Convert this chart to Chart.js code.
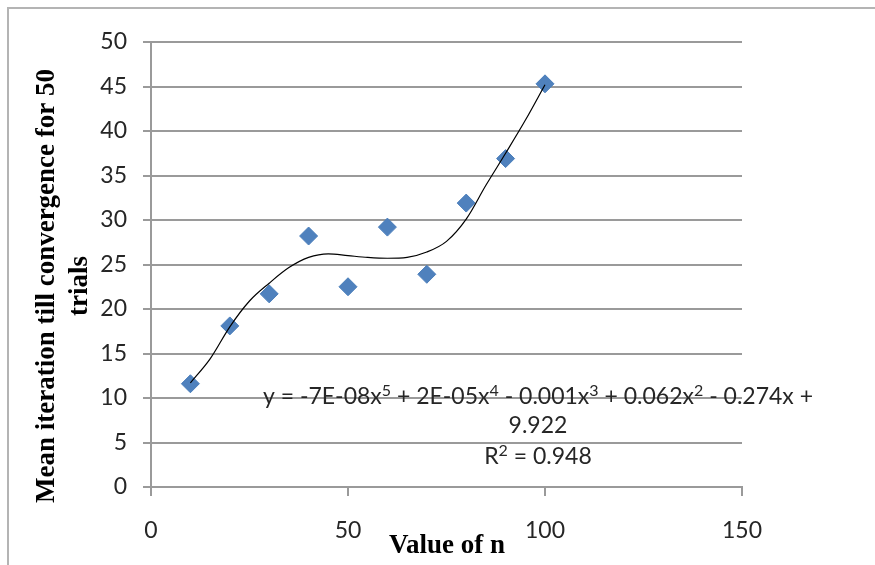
<!DOCTYPE html>
<html><head><meta charset="utf-8">
<script src="https://cdn.jsdelivr.net/npm/chart.js@4/dist/chart.umd.min.js"></script>
<style>html,body{margin:0;padding:0;background:#fff;}#wrap{width:875px;height:565px;}</style>
</head><body><div id="wrap"><canvas id="c" width="875" height="565"></canvas></div>
<script>
// ---- data ----
const nValues = [10, 20, 30, 40, 50, 60, 70, 80, 90, 100];
const meanIterations = [11.6, 18.1, 21.7, 28.2, 22.5, 29.2, 23.9, 31.9, 36.9, 45.3];
// trendline (poly order 5)
const trendX = [10, 15, 20, 25, 30, 35, 40, 45, 50, 55, 60, 65, 70, 75, 80, 85, 90, 95, 100];
const trendY = [11.7, 14.4, 18.0, 20.9, 22.9, 24.65, 25.8, 26.2, 26.0, 25.8, 25.7, 25.8, 26.4, 27.6, 30.1, 33.9, 37.5, 41.2, 45.2];
const xRange = [0, 150], xStep = 50;
const yRange = [0, 50], yStep = 5;
const xAxisTitle = 'Value of n';
const yAxisTitle = ['Mean iteration till convergence for 50', 'trials'];
const equationLine1 = [['y = -7E-08x', 0], ['5', 1], [' + 2E-05x', 0], ['4', 1], [' - 0.001x', 0], ['3', 1], [' + 0.062x', 0], ['2', 1], [' - 0.274x +', 0]];
const equationLine2 = [['9.922', 0]];
const equationLine3 = [['R', 0], ['2', 1], [' = 0.948', 0]];

// ---- styles ----
const GRID = '#9a9a9a';
const TXT = '#262626';
const TICK_FONT = { family: 'Lato', size: 23 };
const EQ_SIZE = 23;

function drawRich(ctx, segs, cx, cy, size) {
  const norm = size + 'px Lato', sup = Math.round(size * 0.7) + 'px Lato';
  let w = 0;
  segs.forEach(([t, s]) => { ctx.font = s ? sup : norm; w += ctx.measureText(t).width; });
  let x = cx - w / 2;
  segs.forEach(([t, s]) => {
    ctx.font = s ? sup : norm;
    ctx.fillText(t, x, s ? cy - size * 0.28 : cy);
    x += ctx.measureText(t).width;
  });
}

const extras = {
  id: 'extras',
  afterDraw(chart) {
    const ctx = chart.ctx;
    ctx.save();
    // outer frame (top + left visible)
    ctx.strokeStyle = '#b4b4b4';
    ctx.lineWidth = 2;
    ctx.beginPath();
    ctx.moveTo(8, 565); ctx.lineTo(8, 8); ctx.lineTo(875, 8);
    ctx.stroke();
    // equation
    ctx.fillStyle = TXT;
    ctx.textBaseline = 'middle';
    drawRich(ctx, equationLine1, 538, 397, EQ_SIZE);
    drawRich(ctx, equationLine2, 538, 426, EQ_SIZE);
    drawRich(ctx, equationLine3, 538, 457, EQ_SIZE);
    // axis titles
    ctx.fillStyle = '#000';
    ctx.textAlign = 'center';
    ctx.font = 'bold 27px "Liberation Serif"';
    ctx.fillText(xAxisTitle, 447, 546);
    ctx.translate(0, 286);
    ctx.rotate(-Math.PI / 2);
    ctx.fillText(yAxisTitle[0], 0, 47);
    ctx.fillText(yAxisTitle[1], 0, 80);
    ctx.restore();
  }
};

new Chart(document.getElementById('c'), {
  type: 'scatter',
  data: {
    datasets: [
      {
        type: 'line',
        label: 'Poly. (trend)',
        data: trendX.map((x, i) => ({ x, y: trendY[i] })),
        borderColor: '#000',
        borderWidth: 1.2,
        pointRadius: 0,
        cubicInterpolationMode: 'monotone',
        fill: false,
        order: 0
      },
      {
        label: 'Mean iteration',
        data: nValues.map((x, i) => ({ x, y: meanIterations[i] })),
        pointStyle: 'rectRot',
        pointRadius: 9,
        backgroundColor: '#4F81BD',
        borderColor: '#4A7EBB',
        borderWidth: 1,
        order: 1
      }
    ]
  },
  options: {
    responsive: false,
    animation: false,
    devicePixelRatio: 1,
    layout: { padding: { left: 0, top: 42, right: 133, bottom: 0 } },
    plugins: { legend: { display: false }, tooltip: { enabled: false } },
    scales: {
      x: {
        type: 'linear', min: xRange[0], max: xRange[1],
        ticks: { stepSize: xStep, font: TICK_FONT, color: TXT, padding: 21 },
        grid: { drawOnChartArea: false, drawTicks: true, tickLength: 9, color: GRID, lineWidth: 2 },
        border: { color: GRID, width: 2 },
        afterFit(s) { s.height = 78; }
      },
      y: {
        type: 'linear', min: yRange[0], max: yRange[1],
        ticks: { stepSize: yStep, font: TICK_FONT, color: TXT, padding: 16 },
        grid: { color: GRID, lineWidth: 2, tickLength: 8 },
        border: { color: GRID, width: 2 },
        afterFit(s) { s.width = 151; }
      }
    }
  },
  plugins: [extras]
});
</script></body></html>
